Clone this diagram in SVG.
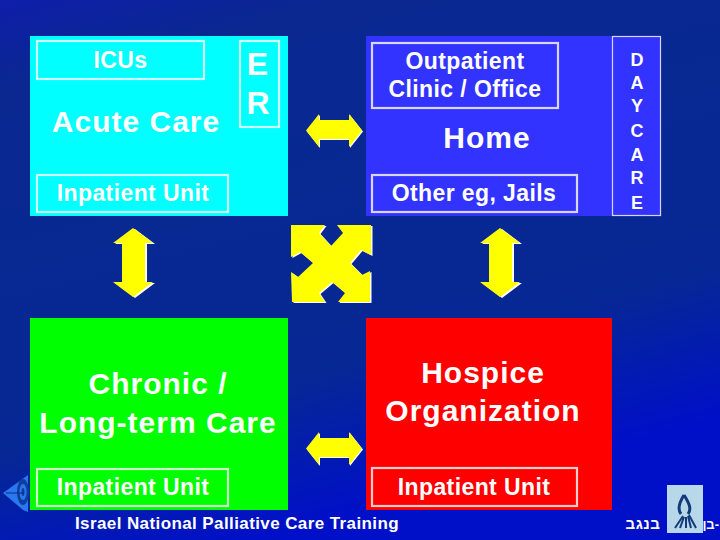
<svg xmlns="http://www.w3.org/2000/svg" width="720" height="540" viewBox="0 0 720 540">
<defs>
<linearGradient id="bg" x1="0" y1="0" x2="0.35" y2="1"><stop offset="0" stop-color="#0e1eaa"/><stop offset="0.15" stop-color="#0a2890"/><stop offset="0.75" stop-color="#062894"/><stop offset="1" stop-color="#0010c8"/></linearGradient>
<path id="h" d="M0 16.500L13 0V6H43V0L56 16.500L43 33V25H13V33Z"/>
<path id="v" d="M20 0L40 15H32V54H40L20 69L0 54H9V15H0Z"/>
</defs>
<style>
text{font-family:"Liberation Sans",Arial,sans-serif;fill:#fff;text-anchor:middle;font-weight:bold}
.box{fill:none;stroke-width:2.200}
.t{font-size:23px;letter-spacing:.4px}
.b{font-size:30px;letter-spacing:1px}
.d{font-size:18px}
.y{fill:#ff0}.s{fill:#fff}
</style>
<rect width="720" height="540" fill="url(#bg)"/>
<g id="target">
<path d="M3 493L28 475V512L23 510Z" fill="#2a78f0"/>
<ellipse cx="23" cy="492" rx="6" ry="13" fill="#0d3f9c"/>
<ellipse cx="23" cy="492" rx="3.500" ry="8" fill="#2a78f0"/>
<ellipse cx="23" cy="492" rx="1.500" ry="4" fill="#0d3f9c"/>
<path d="M6 493H24" stroke="#0d2c84" stroke-width="1"/>
</g>
<g id="acute-care">
<rect x="30" y="36" width="258" height="180" fill="#0ff"/>
<rect class="box" x="37" y="41" width="167" height="38" stroke="#ccffff"/>
<text class="t" x="120.500" y="68">ICUs</text>
<text class="b" x="136" y="132">Acute Care</text>
<rect class="box" x="37" y="175" width="191" height="37" stroke="#ccffff"/>
<text class="t" x="133" y="201">Inpatient Unit</text>
</g>
<g id="er">
<rect class="box" x="240" y="41" width="39" height="86" stroke="#ccffff"/>
<text x="257.500" y="75" font-size="32">E</text>
<text x="258" y="114" font-size="32">R</text>
</g>
<g id="home">
<rect x="366" y="36" width="246" height="180" fill="#3333ff"/>
<rect class="box" x="372" y="43" width="186" height="65" stroke="#d6d6ff"/>
<text class="t" x="465" y="69">Outpatient</text>
<text class="t" x="465" y="97">Clinic / Office</text>
<text class="b" x="487" y="148">Home</text>
<rect class="box" x="372" y="175" width="205" height="37" stroke="#d6d6ff"/>
<text class="t" x="474" y="201">Other eg, Jails</text>
</g>
<g id="daycare">
<rect x="612" y="36" width="49" height="180" fill="#3333ff"/>
<rect x="612.500" y="36.500" width="48" height="179" fill="none" stroke="#d6d6ff" stroke-width="1.200"/>
<g class="d"><text x="637" y="66">D</text><text x="637" y="89">A</text><text x="637" y="112">Y</text><text x="637" y="137">C</text><text x="637" y="161">A</text><text x="637" y="184">R</text><text x="637" y="209">E</text></g>
</g>
<g id="chronic-care">
<rect x="30" y="318" width="258" height="192" fill="#0f0"/>
<text class="b" x="158" y="394">Chronic /</text>
<text class="b" x="158" y="433">Long-term Care</text>
<rect class="box" x="37" y="469" width="191" height="37" stroke="#ccffcc"/>
<text class="t" x="133" y="495">Inpatient Unit</text>
</g>
<g id="hospice">
<rect x="366" y="318" width="246" height="192" fill="#f00"/>
<text class="b" x="483" y="383">Hospice</text>
<text class="b" x="483" y="421">Organization</text>
<rect class="box" x="372" y="468" width="205" height="38" stroke="#ffcccc"/>
<text class="t" x="474" y="495">Inpatient Unit</text>
</g>
<g id="connectors">
<use href="#h" x="307" y="115" class="s"/><use href="#h" x="306" y="114" class="y"/>
<use href="#h" x="307" y="433" class="s"/><use href="#h" x="306" y="432" class="y"/>
<use href="#v" x="115" y="229" class="s"/><use href="#v" x="113" y="228" class="y"/>
<use href="#v" x="482" y="229" class="s"/><use href="#v" x="480" y="228" class="y"/>
<path id="cross" class="s" transform="translate(1.500 1)" d="M291 225H325L319 233L331 246L343 233L337 225H371V255L361 250L350 263L362 275L370 271V302H338L345 293L332 282L319 293L325 302H292L291 272L298 277L313 263L300 252L291 257Z"/>
<path class="y" d="M291 225H325L319 233L331 246L343 233L337 225H371V255L361 250L350 263L362 275L370 271V302H338L345 293L332 282L319 293L325 302H292L291 272L298 277L313 263L300 252L291 257Z"/>
</g>
<g id="footer">
<text x="237" y="529" font-size="17" letter-spacing=".4">Israel National Palliative Care Training</text>
<text x="643" y="529" font-size="15" letter-spacing=".5" direction="rtl" style="font-family:'Liberation Sans','DejaVu Sans',sans-serif">בנגב</text>
<text x="719" y="529" font-size="13" direction="rtl" style="text-anchor:start;font-family:'Liberation Sans','DejaVu Sans',sans-serif">-בן</text>
</g>
<g id="logo">
<rect x="667" y="485" width="36" height="48" fill="#b8d8ea"/>
<path d="M684 495C679 503 677 509 681 514M684 495C689 503 692 509 688 514" fill="none" stroke="#123a7a" stroke-width="3"/>
<path d="M675 528L683 516M680 528L684 517M686 528L686 517M691 528L688 516M696 528L689 515" stroke="#123a7a" stroke-width="2" fill="none"/>
</g>
</svg>
